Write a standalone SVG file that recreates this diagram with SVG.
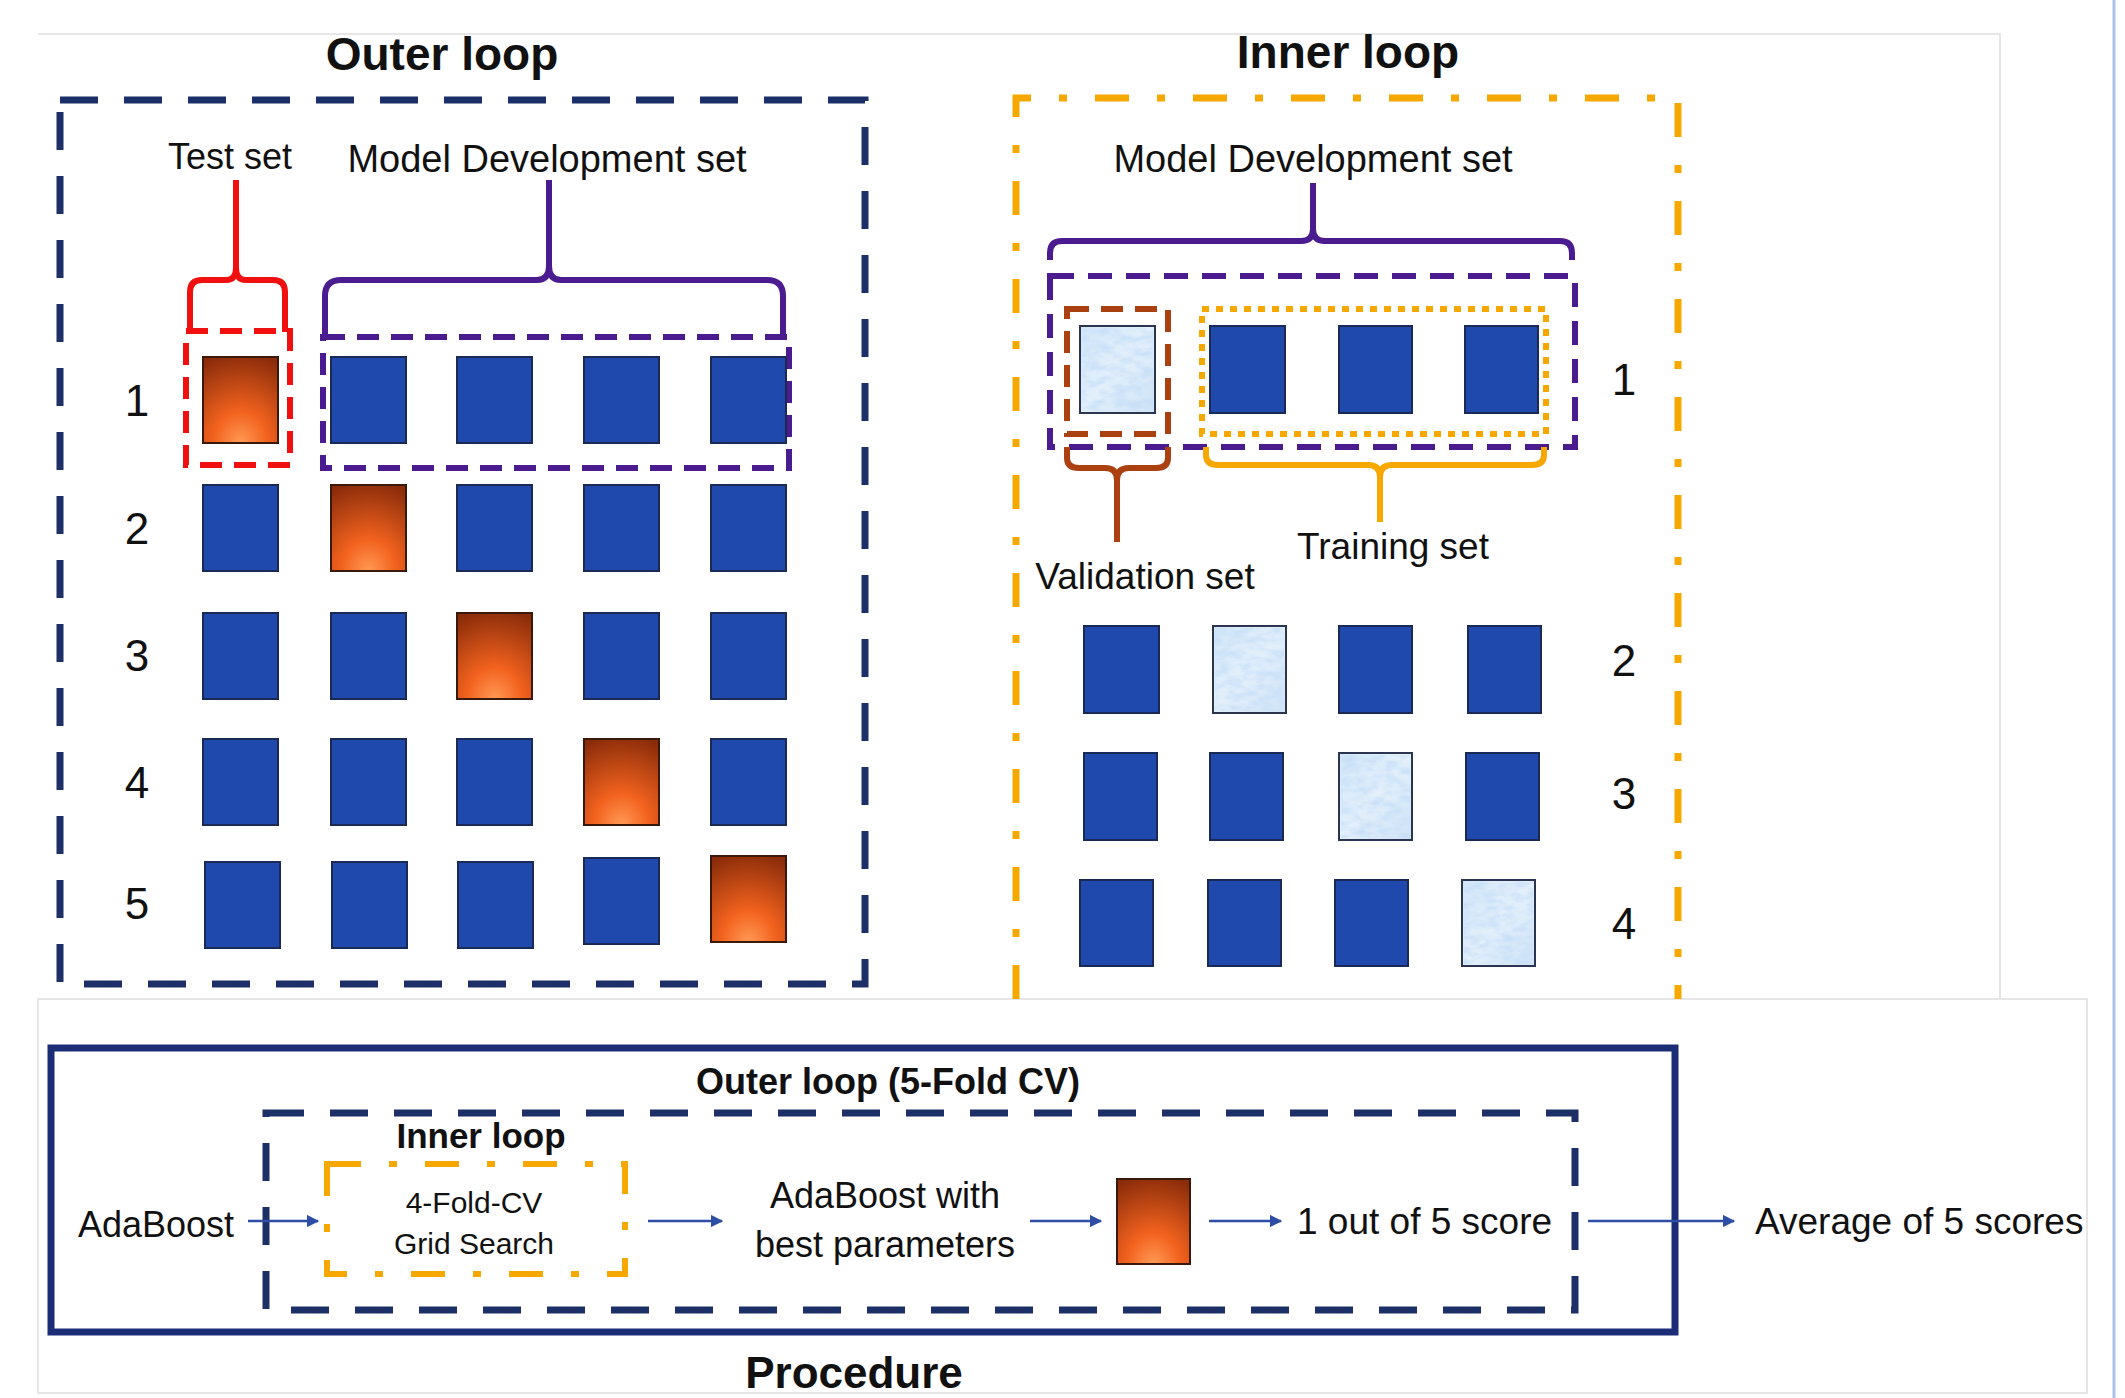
<svg xmlns="http://www.w3.org/2000/svg" width="2125" height="1398" viewBox="0 0 2125 1398">
<style>
text{font-family:"Liberation Sans",Arial,sans-serif;fill:#111;}
.t{font-size:46px;font-weight:bold;text-anchor:middle;}
.lbl{font-size:37px;text-anchor:middle;}
.num{font-size:44px;text-anchor:middle;}
.blue{fill:#2049ae;stroke:#1b2a55;stroke-width:2;}
.org{fill:url(#og);stroke:#3a180a;stroke-width:2;}
.lt{fill:url(#lg);stroke:#2b3550;stroke-width:2;}
.tx{fill:#fff;filter:url(#tex);}
.navyd{fill:none;stroke:#1c2f66;stroke-width:7;stroke-dasharray:38 26;}
.orgdd{fill:none;stroke:#f6a800;stroke-width:7;stroke-dasharray:34 28 8 28;}
.arr{stroke:#2e4ea6;stroke-width:2.5;fill:none;marker-end:url(#ah);}
.brace{fill:none;stroke-width:6;stroke-linejoin:round;}
</style>
<defs>
<radialGradient id="og" cx="0.5" cy="1" r="1.05">
<stop offset="0" stop-color="#ff9a55"/>
<stop offset="0.35" stop-color="#f2621e"/>
<stop offset="1" stop-color="#8a2c0a"/>
</radialGradient>
<linearGradient id="lg" x1="0" y1="0" x2="1" y2="1">
<stop offset="0" stop-color="#d2e6f8"/>
<stop offset="0.5" stop-color="#e3f0fb"/>
<stop offset="1" stop-color="#cfe3f6"/>
</linearGradient>
<filter id="tex" x="0" y="0" width="1" height="1">
<feTurbulence type="fractalNoise" baseFrequency="0.07 0.14" numOctaves="3" seed="5" result="n"/>
<feColorMatrix in="n" type="matrix" values="0 0 0 0 0.55  0 0 0 0 0.72  0 0 0 0 0.93  0 0 0 1.6 -0.55" result="c"/>
<feComposite in="c" in2="SourceGraphic" operator="in"/>
</filter>
<marker id="ah" viewBox="0 0 10 10" refX="9" refY="5" markerWidth="5" markerHeight="5" orient="auto" markerUnits="strokeWidth">
<path d="M0,0 L10,5 L0,10 z" fill="#2e4ea6"/>
</marker>
</defs>
<rect width="2125" height="1398" fill="#fff"/>
<g id="background-frames" fill="none">
<path d="M38,34 L2000,34 L2000,999" stroke="#e6e6e6" stroke-width="2"/>
<rect x="38" y="999" width="2049" height="394" stroke="#e6e6e6" stroke-width="2"/>
<line x1="2114" y1="0" x2="2114" y2="1398" stroke="#a9c4e8" stroke-width="3"/>
</g>

<g id="outer-loop">
<text class="t" x="442" y="70">Outer loop</text>
<rect class="navyd" x="60" y="100" width="805" height="884"/>
<g id="test-set">
<text class="lbl" x="230" y="169" style="font-size:36px">Test set</text>
<path class="brace" stroke="#f01010" d="M190,332 L190,292 Q190,280 202,280 L226,280 Q236,280 236,268 L236,180 M236,268 Q236,280 246,280 L273,280 Q285,280 285,292 L285,332"/>
<rect x="186" y="331" width="104" height="134" fill="none" stroke="#f01010" stroke-width="6" stroke-dasharray="22 12"/>
</g>
<g id="model-dev-set-outer">
<text class="lbl" x="547" y="172" style="font-size:38px">Model Development set</text>
<path class="brace" stroke="#4b1c8f" d="M325,336 L325,296 Q325,280 341,280 L537,280 Q549,280 549,266 L549,180 M549,266 Q549,280 561,280 L767,280 Q783,280 783,296 L783,336"/>
<rect x="323" y="337" width="466" height="131" fill="none" stroke="#4b1c8f" stroke-width="6" stroke-dasharray="22 12"/>
</g>
<g id="outer-row-labels">
<text class="num" x="137" y="416">1</text>
<text class="num" x="137" y="544">2</text>
<text class="num" x="137" y="671">3</text>
<text class="num" x="137" y="798">4</text>
<text class="num" x="137" y="919">5</text>
</g>
<g id="outer-folds">
<rect class="org" x="203" y="357" width="75" height="86"/>
<rect class="blue" x="331" y="357" width="75" height="86"/>
<rect class="blue" x="457" y="357" width="75" height="86"/>
<rect class="blue" x="584" y="357" width="75" height="86"/>
<rect class="blue" x="711" y="357" width="75" height="86"/>

<rect class="blue" x="203" y="485" width="75" height="86"/>
<rect class="org" x="331" y="485" width="75" height="86"/>
<rect class="blue" x="457" y="485" width="75" height="86"/>
<rect class="blue" x="584" y="485" width="75" height="86"/>
<rect class="blue" x="711" y="485" width="75" height="86"/>

<rect class="blue" x="203" y="613" width="75" height="86"/>
<rect class="blue" x="331" y="613" width="75" height="86"/>
<rect class="org" x="457" y="613" width="75" height="86"/>
<rect class="blue" x="584" y="613" width="75" height="86"/>
<rect class="blue" x="711" y="613" width="75" height="86"/>

<rect class="blue" x="203" y="739" width="75" height="86"/>
<rect class="blue" x="331" y="739" width="75" height="86"/>
<rect class="blue" x="457" y="739" width="75" height="86"/>
<rect class="org" x="584" y="739" width="75" height="86"/>
<rect class="blue" x="711" y="739" width="75" height="86"/>

<rect class="blue" x="205" y="862" width="75" height="86"/>
<rect class="blue" x="332" y="862" width="75" height="86"/>
<rect class="blue" x="458" y="862" width="75" height="86"/>
<rect class="blue" x="584" y="858" width="75" height="86"/>
<rect class="org" x="711" y="856" width="75" height="86"/>
</g>
</g>

<g id="inner-loop">
<text class="t" x="1348" y="68">Inner loop</text>
<path class="orgdd" d="M1016,999 L1016,98 L1678,98 L1678,999"/>
<g id="model-dev-set-inner">
<text class="lbl" x="1313" y="172" style="font-size:38px">Model Development set</text>
<path class="brace" stroke="#4b1c8f" d="M1050,260 L1050,253 Q1050,241 1062,241 L1301,241 Q1313,241 1313,229 L1313,183 M1313,229 Q1313,241 1325,241 L1560,241 Q1572,241 1572,253 L1572,260"/>
<rect x="1050" y="276" width="525" height="171" fill="none" stroke="#4b1c8f" stroke-width="6" stroke-dasharray="24 14"/>
</g>
<g id="validation-set">
<rect x="1067" y="309" width="101" height="125" fill="none" stroke="#ab4010" stroke-width="6" stroke-dasharray="22 12"/>
<path class="brace" stroke="#ab4010" d="M1067,447 L1067,458 Q1067,468 1079,468 L1105,468 Q1117,468 1117,480 L1117,542 M1117,480 Q1117,468 1129,468 L1156,468 Q1168,468 1168,458 L1168,447"/>
<text class="lbl" x="1145" y="589">Validation set</text>
</g>
<g id="training-set">
<rect x="1202" y="309" width="344" height="125" fill="none" stroke="#f6a800" stroke-width="6" stroke-dasharray="7 7"/>
<path class="brace" stroke="#f6a800" d="M1206,447 L1206,455 Q1206,465 1218,465 L1368,465 Q1380,465 1380,477 L1380,522 M1380,477 Q1380,465 1392,465 L1532,465 Q1544,465 1544,455 L1544,447"/>
<text class="lbl" x="1393" y="559">Training set</text>
</g>
<g id="inner-row-labels">
<text class="num" x="1624" y="395">1</text>
<text class="num" x="1624" y="676">2</text>
<text class="num" x="1624" y="809">3</text>
<text class="num" x="1624" y="939">4</text>
</g>
<g id="inner-folds">
<rect class="lt" x="1080" y="326" width="75" height="87"/>
<rect class="tx" x="1082" y="328" width="71" height="83"/>
<rect class="blue" x="1210" y="326" width="75" height="87"/>
<rect class="blue" x="1339" y="326" width="73" height="87"/>
<rect class="blue" x="1465" y="326" width="73" height="87"/>

<rect class="blue" x="1084" y="626" width="75" height="87"/>
<rect class="lt" x="1213" y="626" width="73" height="87"/>
<rect class="tx" x="1215" y="628" width="69" height="83"/>
<rect class="blue" x="1339" y="626" width="73" height="87"/>
<rect class="blue" x="1468" y="626" width="73" height="87"/>

<rect class="blue" x="1084" y="753" width="73" height="87"/>
<rect class="blue" x="1210" y="753" width="73" height="87"/>
<rect class="lt" x="1339" y="753" width="73" height="87"/>
<rect class="tx" x="1341" y="755" width="69" height="83"/>
<rect class="blue" x="1466" y="753" width="73" height="87"/>

<rect class="blue" x="1080" y="880" width="73" height="86"/>
<rect class="blue" x="1208" y="880" width="73" height="86"/>
<rect class="blue" x="1335" y="880" width="73" height="86"/>
<rect class="lt" x="1462" y="880" width="73" height="86"/>
<rect class="tx" x="1464" y="882" width="69" height="82"/>
</g>
</g>

<g id="procedure">
<rect x="51" y="1048" width="1624" height="284" fill="none" stroke="#1c2d78" stroke-width="7"/>
<text class="t" x="888" y="1094" style="font-size:36px">Outer loop (5-Fold CV)</text>
<rect class="navyd" x="266" y="1113" width="1309" height="197"/>
<text class="t" x="481" y="1148" style="font-size:35px">Inner loop</text>
<g id="node-adaboost"><text class="lbl" x="156" y="1237" style="font-size:36px">AdaBoost</text></g>
<g id="node-gridsearch">
<rect class="orgdd" x="327" y="1164" width="298" height="110" style="stroke-width:6"/>
<text class="lbl" x="474" y="1213" style="font-size:30px">4-Fold-CV</text>
<text class="lbl" x="474" y="1254" style="font-size:30px">Grid Search</text>
</g>
<g id="node-best"><text class="lbl" x="885" y="1208" style="font-size:36px">AdaBoost with</text>
<text class="lbl" x="885" y="1257" style="font-size:36px">best parameters</text></g>
<g id="node-testfold"><rect class="org" x="1117" y="1179" width="73" height="85"/></g>
<g id="node-score"><text x="1297" y="1234" style="font-size:37px">1 out of 5 score</text></g>
<g id="node-average"><text x="1755" y="1234" style="font-size:37px">Average of 5 scores</text></g>
<text class="t" x="854" y="1388" style="font-size:44px">Procedure</text>
</g>

<g id="connectors">
<line class="arr" x1="248" y1="1221" x2="318" y2="1221"/>
<line class="arr" x1="648" y1="1221" x2="722" y2="1221"/>
<line class="arr" x1="1030" y1="1221" x2="1101" y2="1221"/>
<line class="arr" x1="1209" y1="1221" x2="1281" y2="1221"/>
<line class="arr" x1="1588" y1="1221" x2="1734" y2="1221"/>
</g>
</svg>
